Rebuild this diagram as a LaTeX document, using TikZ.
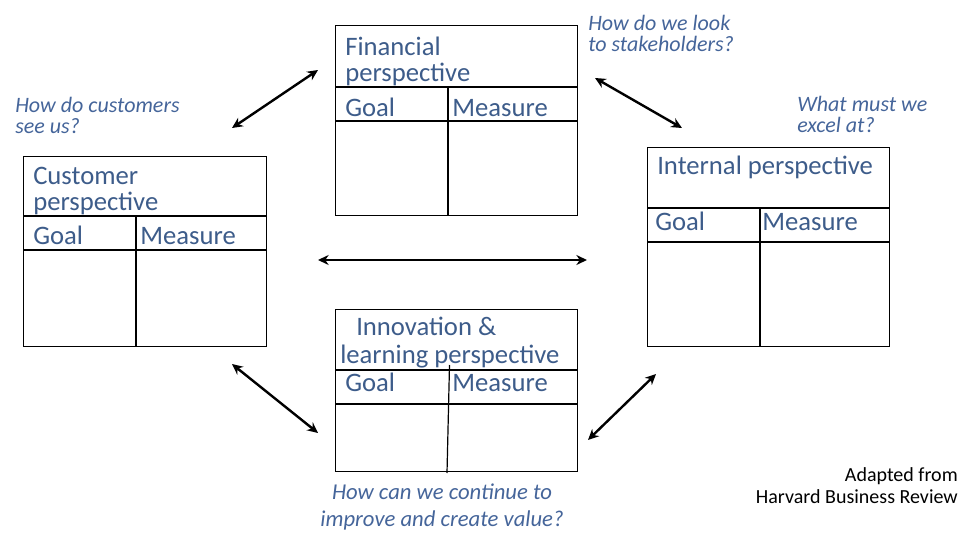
\documentclass[tikz,border=0pt]{standalone}
\usepackage{fontspec}
\setmainfont{Carlito}
\usepackage{xcolor}
\usepackage{tikz}
\usetikzlibrary{arrows.meta,positioning,calc}
\definecolor{bscblue}{HTML}{3D5C8A}
\definecolor{bscask}{HTML}{45659A}

\begin{document}
\begin{tikzpicture}[
    x=0.75pt, y=-0.75pt,
    pbox/.style={draw, line width=0.9pt, rectangle, anchor=north west, inner sep=0pt},
    grid/.style={line width=0.9pt},
    ptitle/.style={anchor=north west, align=left, text=bscblue, font=\fontsize{20}{19.5}\selectfont, inner sep=0pt},
    phead/.style={anchor=base west, text=bscblue, font=\fontsize{20}{20}\selectfont, inner sep=0pt},
    ask/.style={align=left, text=bscask, font=\fontsize{16.5}{16}\selectfont\itshape, inner sep=0pt},
    link/.style={{Stealth[length=8pt,width=7.5pt]}-{Stealth[length=8pt,width=7.5pt]}, line width=1.8pt}
]
\useasboundingbox (0,0) rectangle (974,538);

% perspective boxes
\node[pbox, minimum width=181.5pt, minimum height=142.5pt] (fin) at (335,25) {};
\node[pbox, minimum width=182.25pt, minimum height=142.5pt] (cust) at (23,156) {};
\node[pbox, minimum width=181.5pt, minimum height=149.25pt] (intl) at (647,147) {};
\node[pbox, minimum width=181.5pt, minimum height=121.5pt] (innov) at (335,309) {};

% financial
\draw[grid] (335,87) -- (577,87);
\draw[grid] (335,121) -- (577,121);
\draw[grid] (448,87) -- (448,215);
\node[ptitle] (fint) at (345,37) {Financial\\perspective};
\node[phead] (fing) at (345,117) {Goal};
\node[phead] (finm) at (452,117) {Measure};

% customer
\draw[grid] (23,216) -- (266,216);
\draw[grid] (23,250) -- (266,250);
\draw[grid] (136,216) -- (136,346);
\node[ptitle] (custt) at (33,167) {Customer\\perspective};
\node[phead] (custg) at (33,245) {Goal};
\node[phead] (custm) at (140,245) {Measure};

% internal
\draw[grid] (647,208) -- (889,208);
\draw[grid] (647,242) -- (889,242);
\draw[grid] (760,208) -- (760,346);
\node[ptitle] (intlt) at (657,156) {Internal perspective};
\node[phead] (intlg) at (655,231) {Goal};
\node[phead] (intlm) at (762,231) {Measure};

% innovation
\draw[grid] (335,370) -- (577,370);
\draw[grid] (335,404) -- (577,404);
\draw[grid] (449.5,365) -- (447,473);
\node[ptitle, font=\fontsize{20}{21}\selectfont] (innovt) at (340,317) {\hspace{12pt}Innovation \&\\learning perspective};
\node[phead] (innovg) at (345,391) {Goal};
\node[phead] (innovm) at (452,391) {Measure};

% questions
\node[ask, anchor=north west] (qcust) at (15,97) {How do customers\\see us?};
\node[ask, anchor=north west] (qfin) at (588,15) {How do we look\\to stakeholders?};
\node[ask, anchor=north west] (qintl) at (797,96) {What must we\\excel at?};
\node[ask, align=center, anchor=north, font=\fontsize{17}{20}\selectfont\itshape] (qinnov) at (442,484) {How can we continue to\\improve and create value?};

\node[align=right, anchor=north east, inner sep=0pt, font=\fontsize{15}{16.5}\selectfont] (src) at (958,467) {Adapted from\\Harvard Business Review};

% links
\coordinate (a1) at (232,128); \coordinate (a2) at (318,70);
\coordinate (b1) at (595,78);  \coordinate (b2) at (682,128);
\coordinate (c1) at (318,260); \coordinate (c2) at (587,260);
\coordinate (d1) at (232,364); \coordinate (d2) at (318,433);
\coordinate (e1) at (588,440); \coordinate (e2) at (656,374);
\draw[link] (a1) -- (a2);
\draw[link] (b1) -- (b2);
\draw[link] (c1) -- (c2);
\draw[link] (d1) -- (d2);
\draw[link] (e1) -- (e2);
\end{tikzpicture}
\end{document}
